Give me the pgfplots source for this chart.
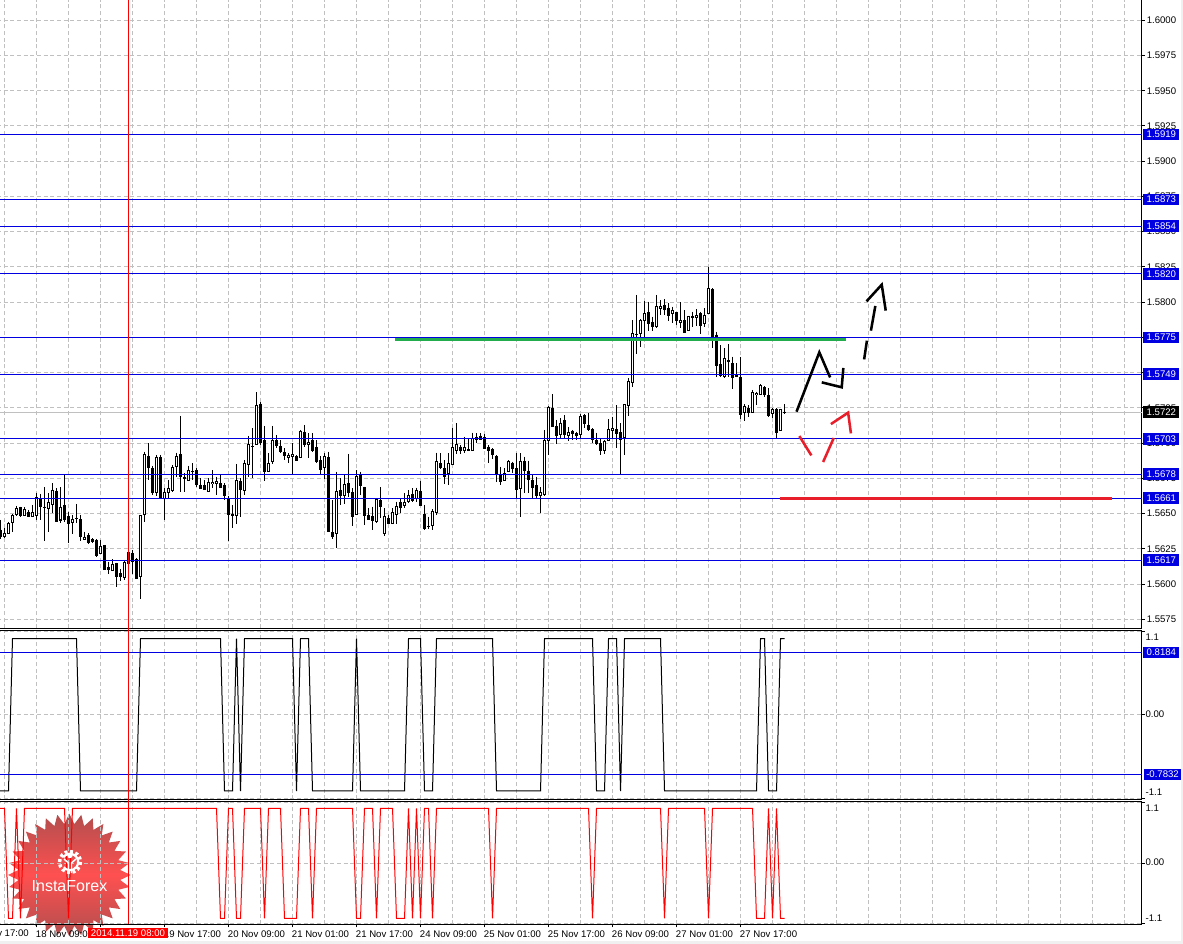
\documentclass[border=0pt]{standalone}
\usepackage{fontspec}
\usepackage{pgfplots}
\usepackage{pgfplotstable}
\pgfplotsset{compat=1.18}
\usetikzlibrary{shapes.geometric}
\setmainfont{Liberation Sans}
\definecolor{gridc}{RGB}{192,192,192}
\definecolor{lvl}{RGB}{0,0,225}
\definecolor{greenl}{RGB}{34,172,78}
\definecolor{redl}{RGB}{232,30,42}
\pgfplotstableread{
k h t b l
1 1.56396 1.56365 1.56341 1.56325
2 1.56443 1.56431 1.56360 1.56355
3 1.56495 1.56490 1.56436 1.56372
4 1.56554 1.56537 1.56493 1.56483
6 1.56545 1.56530 1.56488 1.56483
8 1.56561 1.56509 1.56478 1.56474
9 1.56649 1.56616 1.56490 1.56455
12 1.56644 1.56580 1.56535 1.56372
13 1.56715 1.56668 1.56566 1.56502
15 1.56686 1.56549 1.56455 1.56436
18 1.56490 1.56459 1.56436 1.56355
21 1.56372 1.56336 1.56318 1.56313
25 1.56313 1.56270 1.56218 1.56213
28 1.56176 1.56143 1.56095 1.56090
31 1.56171 1.56159 1.56046 1.56029
35 1.56490 1.56488 1.56053 1.55897
36 1.56940 1.56921 1.56495 1.56443
39 1.56916 1.56904 1.56649 1.56625
41 1.56679 1.56656 1.56611 1.56455
42 1.56738 1.56679 1.56649 1.56611
43 1.56845 1.56828 1.56663 1.56656
44 1.56932 1.56906 1.56833 1.56762
47 1.56838 1.56807 1.56734 1.56729
52 1.56750 1.56727 1.56660 1.56656
53 1.56809 1.56727 1.56712 1.56679
54 1.56762 1.56729 1.56712 1.56632
59 1.56852 1.56736 1.56488 1.56426
61 1.56880 1.56857 1.56663 1.56632
62 1.57051 1.56992 1.56847 1.56762
64 1.57360 1.57268 1.56992 1.56984
67 1.56928 1.56857 1.56798 1.56798
68 1.57122 1.57022 1.56869 1.56852
72 1.56928 1.56918 1.56902 1.56857
73 1.56999 1.56921 1.56904 1.56779
75 1.57093 1.57089 1.56897 1.56897
77 1.57070 1.57006 1.56989 1.56892
81 1.56928 1.56906 1.56826 1.56743
84 1.56798 1.56660 1.56360 1.56256
86 1.56774 1.56708 1.56630 1.56568
89 1.56809 1.56767 1.56493 1.56493
94 1.56608 1.56606 1.56443 1.56431
96 1.56537 1.56483 1.56360 1.56341
98 1.56537 1.56509 1.56431 1.56426
99 1.56585 1.56554 1.56493 1.56426
101 1.56643 1.56580 1.56561 1.56537
102 1.56667 1.56629 1.56584 1.56573
104 1.56684 1.56665 1.56608 1.56584
108 1.56530 1.56516 1.56414 1.56383
109 1.56932 1.56871 1.56506 1.56490
112 1.56927 1.56856 1.56785 1.56705
113 1.57109 1.56970 1.56852 1.56847
114 1.57140 1.56991 1.56951 1.56923
116 1.57046 1.56970 1.56951 1.56932
118 1.57074 1.57038 1.56951 1.56951
119 1.57069 1.57046 1.57027 1.57003
126 1.56821 1.56785 1.56733 1.56733
127 1.56880 1.56871 1.56800 1.56795
130 1.56927 1.56875 1.56679 1.56478
135 1.56686 1.56651 1.56627 1.56502
136 1.57093 1.57022 1.56634 1.56625
137 1.57263 1.57258 1.57022 1.56915
140 1.57176 1.57145 1.57064 1.57027
142 1.57116 1.57076 1.57053 1.57017
145 1.57206 1.57190 1.57064 1.57027
151 1.57022 1.57017 1.56946 1.56923
152 1.57171 1.57098 1.57022 1.57017
153 1.57187 1.57105 1.57093 1.57027
156 1.57277 1.57275 1.57041 1.56915
157 1.57459 1.57438 1.57268 1.57192
158 1.57873 1.57779 1.57429 1.57400
159 1.58051 1.57774 1.57769 1.57632
160 1.57878 1.57876 1.57776 1.57679
161 1.58008 1.57921 1.57869 1.57750
164 1.58051 1.57970 1.57826 1.57817
165 1.58015 1.57970 1.57954 1.57909
168 1.57968 1.57942 1.57921 1.57850
170 1.57999 1.57871 1.57857 1.57814
172 1.57902 1.57899 1.57800 1.57795
173 1.57932 1.57902 1.57892 1.57826
174 1.57949 1.57906 1.57892 1.57831
176 1.57956 1.57906 1.57847 1.57826
177 1.58252 1.58098 1.57921 1.57916
181 1.57672 1.57601 1.57471 1.57459
186 1.57277 1.57263 1.57216 1.57159
188 1.57377 1.57360 1.57218 1.57216
189 1.57365 1.57358 1.57344 1.57270
190 1.57419 1.57410 1.57344 1.57339
193 1.57247 1.57242 1.57209 1.57176
195 1.57242 1.57239 1.57088 1.57083
}\bull
\pgfplotstableread{
k h t b l
0 1.56455 1.56384 1.56341 1.56318
5 1.56549 1.56545 1.56490 1.56478
7 1.56526 1.56514 1.56483 1.56474
10 1.56639 1.56608 1.56554 1.56455
11 1.56686 1.56549 1.56542 1.56308
14 1.56679 1.56660 1.56443 1.56443
16 1.56774 1.56559 1.56462 1.56443
17 1.56514 1.56483 1.56429 1.56294
19 1.56568 1.56469 1.56464 1.56436
20 1.56490 1.56459 1.56336 1.56308
22 1.56360 1.56348 1.56294 1.56284
23 1.56325 1.56318 1.56303 1.56289
24 1.56318 1.56313 1.56202 1.56190
26 1.56277 1.56275 1.56102 1.56100
27 1.56159 1.56119 1.56102 1.56072
29 1.56152 1.56147 1.56053 1.55977
30 1.56105 1.56076 1.56053 1.56020
32 1.56230 1.56225 1.56147 1.56143
33 1.56242 1.56218 1.56159 1.56072
34 1.56183 1.56176 1.56043 1.56043
37 1.56999 1.56909 1.56826 1.56738
38 1.56838 1.56824 1.56653 1.56632
40 1.56916 1.56899 1.56611 1.56611
45 1.57193 1.56921 1.56762 1.56651
46 1.56786 1.56760 1.56748 1.56651
48 1.56857 1.56802 1.56798 1.56738
49 1.56821 1.56809 1.56710 1.56691
50 1.56750 1.56705 1.56682 1.56677
51 1.56738 1.56701 1.56675 1.56668
55 1.56774 1.56715 1.56686 1.56679
56 1.56715 1.56701 1.56627 1.56597
57 1.56625 1.56611 1.56493 1.56308
58 1.56561 1.56497 1.56490 1.56396
60 1.56750 1.56731 1.56675 1.56478
63 1.57105 1.56980 1.56975 1.56750
65 1.57292 1.57278 1.57003 1.56987
66 1.57122 1.57022 1.56802 1.56734
69 1.57058 1.57022 1.56987 1.56963
70 1.57022 1.56980 1.56940 1.56932
71 1.56963 1.56935 1.56914 1.56880
74 1.56916 1.56906 1.56880 1.56876
76 1.57129 1.57079 1.56994 1.56975
78 1.57070 1.57022 1.56947 1.56940
79 1.57022 1.56970 1.56869 1.56861
80 1.56909 1.56880 1.56817 1.56774
82 1.56940 1.56899 1.56372 1.56372
83 1.56597 1.56367 1.56341 1.56318
85 1.56750 1.56668 1.56632 1.56561
87 1.56923 1.56715 1.56653 1.56620
88 1.56679 1.56653 1.56483 1.56412
90 1.56798 1.56774 1.56698 1.56632
91 1.56691 1.56686 1.56490 1.56419
92 1.56537 1.56490 1.56462 1.56455
93 1.56549 1.56483 1.56455 1.56384
95 1.56686 1.56597 1.56554 1.56467
97 1.56490 1.56467 1.56431 1.56426
100 1.56608 1.56580 1.56544 1.56506
103 1.56679 1.56639 1.56591 1.56584
105 1.56733 1.56658 1.56561 1.56561
106 1.56561 1.56495 1.56393 1.56383
107 1.56478 1.56412 1.56407 1.56388
110 1.56927 1.56856 1.56826 1.56819
111 1.56880 1.56821 1.56762 1.56710
115 1.56986 1.56975 1.56951 1.56923
117 1.57034 1.56958 1.56949 1.56944
120 1.57069 1.57053 1.57027 1.57022
121 1.57064 1.57043 1.56965 1.56960
122 1.56986 1.56975 1.56946 1.56856
123 1.56963 1.56956 1.56918 1.56885
124 1.56913 1.56908 1.56781 1.56726
125 1.56833 1.56778 1.56726 1.56703
128 1.56868 1.56861 1.56823 1.56790
129 1.56927 1.56821 1.56674 1.56608
131 1.56904 1.56873 1.56804 1.56643
132 1.56875 1.56804 1.56743 1.56643
133 1.56774 1.56738 1.56684 1.56610
134 1.56762 1.56700 1.56629 1.56610
138 1.57348 1.57247 1.57121 1.57116
139 1.57164 1.57119 1.57053 1.56994
141 1.57199 1.57161 1.57064 1.57027
143 1.57093 1.57088 1.57069 1.57022
144 1.57081 1.57072 1.57053 1.57022
146 1.57206 1.57197 1.57138 1.57105
147 1.57211 1.57126 1.57100 1.57088
148 1.57105 1.57100 1.57027 1.57003
149 1.57074 1.57022 1.56996 1.56986
150 1.57034 1.56998 1.56951 1.56915
154 1.57270 1.57098 1.57067 1.56963
155 1.57140 1.57076 1.57027 1.56781
162 1.58003 1.57928 1.57850 1.57795
163 1.57897 1.57859 1.57831 1.57798
166 1.58022 1.57977 1.57947 1.57909
167 1.57992 1.57961 1.57906 1.57869
169 1.57930 1.57928 1.57871 1.57838
171 1.57944 1.57873 1.57783 1.57779
175 1.57932 1.57921 1.57833 1.57774
178 1.58098 1.58091 1.57750 1.57672
179 1.57791 1.57769 1.57549 1.57471
180 1.57696 1.57559 1.57483 1.57471
182 1.57703 1.57589 1.57578 1.57471
183 1.57613 1.57566 1.57467 1.57386
184 1.57566 1.57483 1.57476 1.57471
185 1.57608 1.57467 1.57206 1.57169
187 1.57270 1.57249 1.57218 1.57183
191 1.57405 1.57398 1.57344 1.57329
192 1.57388 1.57341 1.57195 1.57187
194 1.57247 1.57242 1.57074 1.57038
196 1.57277 1.57223 1.57216 1.57206
}\bear
\tikzset{lvlbox/.style={fill=#1,text=white,inner sep=0pt,minimum width=27pt,minimum height=8.6pt,font=\fontsize{7.2}{8}\selectfont}}
\pgfplotsset{
  common/.style={
    scale only axis, width=858.375pt, clip=false,
    xmin=-0.875, xmax=285.25,
    axis line style={black,line width=.75pt},
    tick style={black,line width=.75pt},
    major tick length=2.25pt, minor tick length=0pt,
    tick align=outside, ytick pos=right, xtick pos=bottom,
    xmajorgrids, xminorgrids, ymajorgrids,
    grid style={gridc,line width=.75pt,dash pattern=on 3pt off 2pt},
    minor xtick={1,9,17,25,33,41,49,57,65,73,81,89,97,105,113,121,129,137,145,153,161,169,177,185,193,201,209,217,225,233,241,249,257,265,273,281},
    tick label style={font=\fontsize{7.2}{8}\selectfont},
    yticklabel style={anchor=west,inner sep=0pt,xshift=1.5pt,/pgf/number format/.cd,fixed,fixed zerofill,precision=4,assume math mode=true},
  },
  nox/.style={xtick={9,25,41,57,73,89,105,121,137,153,169,185},xticklabels={,,},xtick style={draw=none}},
  wick/.style={draw=none,forget plot,no markers,error bars/.cd,y dir=minus,y explicit,error mark=none,error bar style={line width=.75pt,black,solid}},
  body/.style={draw=none,forget plot,no markers,error bars/.cd,y dir=minus,y explicit,error mark=none,error bar style={line width=2.25pt,black,solid}},
  hole/.style={draw=none,forget plot,no markers,error bars/.cd,y dir=minus,y explicit,error mark=none,error bar style={line width=.75pt,white,solid}},
}
\begin{document}
\begin{tikzpicture}
\path[use as bounding box] (0,0) rectangle (887.25pt,708pt);
\fill[white] (0,0) rectangle (887.25pt,708pt);
\fill[black!6] (0,0) rectangle (887.25pt,2pt);
\fill[black!6] (885.75pt,0) rectangle (887.25pt,708pt);
% logo star behind the axes
\begin{scope}[x=.75pt,y=-.75pt,yshift=708pt]
\node[star,star points=32,star point ratio=1.2,minimum size=92pt,inner sep=0pt,draw=none,
  top color={rgb,255:red,178;green,78;blue,78},bottom color={rgb,255:red,178;green,78;blue,78},middle color={rgb,255:red,255;green,80;blue,80}] at (69.3,875) {};
\end{scope}
% main panel
\begin{axis}[common, nox, at={(-2.25pt,236.625pt)}, anchor=south west, height=473.625pt,
  ymin=1.556847, ymax=1.601653,
  ytick={1.5575,1.56,1.5625,1.565,1.5675,1.57,1.5725,1.575,1.5775,1.58,1.5825,1.585,1.5875,1.59,1.5925,1.595,1.5975,1.6}]
\addplot[gridc,line width=.75pt,forget plot] coordinates {(-1,1.5722)(285.25,1.5722)};
\addplot[wick] table[x=k,y=h,y error minus expr=\thisrow{h}-\thisrow{l}] {\bull};
\addplot[wick] table[x=k,y=h,y error minus expr=\thisrow{h}-\thisrow{l}] {\bear};
\addplot[body] table[x=k,y=t,y error minus expr=\thisrow{t}-\thisrow{b}+0.00005] {\bear};
\addplot[body] table[x=k,y=t,y error minus expr=\thisrow{t}-\thisrow{b}+0.00005] {\bull};
\addplot[hole] table[x=k,y expr=\thisrow{t}-0.00007,y error minus expr={max(\thisrow{t}-\thisrow{b}-0.00010,0)}] {\bull};
\addplot[greenl,line width=3pt,forget plot] coordinates {(98.7,1.57737)(211.4,1.57737)};
\pgfplotsinvokeforeach{1.5919,1.5873,1.5854,1.5820,1.5775,1.5749,1.5703,1.5678,1.5661,1.5617}{
  \addplot[lvl,line width=.75pt,forget plot] coordinates {(-1,#1)(285.25,#1)};
}
\addplot[redl,line width=2.2pt,forget plot] coordinates {(194.9,1.56605)(277.9,1.56605)};
\addplot[black,line width=1.9pt,forget plot] coordinates {(199.0,1.57223)(204.7,1.57644)(207.4,1.57466)};
\addplot[black,line width=1.9pt,forget plot] coordinates {(205.3,1.57431)(210.3,1.57396)(210.7,1.57533)};
\addplot[black,line width=1.9pt,forget plot] coordinates {(215.9,1.57594)(216.6,1.57727)};
\addplot[black,line width=1.9pt,forget plot] coordinates {(217.6,1.57798)(218.7,1.57973)};
\addplot[black,line width=1.9pt,forget plot] coordinates {(216.5,1.58006)(220.3,1.58124)(221.3,1.57940)};
\addplot[redl,line width=1.9pt,forget plot] coordinates {(199.7,1.57050)(202.7,1.56913)};
\addplot[redl,line width=1.9pt,forget plot] coordinates {(205.65,1.56866)(208.3,1.57036)};
\addplot[redl,line width=1.9pt,forget plot] coordinates {(207.6,1.57135)(211.9,1.57216)(212.6,1.57069)};
\addplot[red,line width=.75pt,forget plot] coordinates {(32,1.601653)(32,1.55675)};
\node[lvlbox=lvl] at (axis cs:290.2,1.5919) {1.5919};
\node[lvlbox=lvl] at (axis cs:290.2,1.5873) {1.5873};
\node[lvlbox=lvl] at (axis cs:290.2,1.5854) {1.5854};
\node[lvlbox=lvl] at (axis cs:290.2,1.5820) {1.5820};
\node[lvlbox=lvl] at (axis cs:290.2,1.5775) {1.5775};
\node[lvlbox=lvl] at (axis cs:290.2,1.5749) {1.5749};
\node[lvlbox=lvl] at (axis cs:290.2,1.5703) {1.5703};
\node[lvlbox=lvl] at (axis cs:290.2,1.5678) {1.5678};
\node[lvlbox=lvl] at (axis cs:290.2,1.5661) {1.5661};
\node[lvlbox=lvl] at (axis cs:290.2,1.5617) {1.5617};
\node[lvlbox=black] at (axis cs:290.2,1.5722) {1.5722};
\end{axis}
% black indicator
\begin{axis}[common, nox, at={(-2.25pt,108.375pt)}, anchor=south west, height=126.75pt,
  ymin=-1.1116, ymax=1.1077, ytick={-1.1,0,1.1}, yticklabels={,,}]
\addplot[black,line width=.75pt,forget plot] coordinates {(-1,-1)(2,-1)(3,1)(19,1)(20,-1)(34,-1)(35,1)(55,1)(56,-1)(58,-1)(59,1)(60,-1)(61,1)(73,1)(74,-1)(75,1)(77,1)(78,-1)(88,-1)(89,1)(90,-1)(101,-1)(102,1)(105,1)(106,-1)(108,-1)(109,1)(123,1)(124,-1)(135,-1)(136,1)(148,1)(149,-1)(151,-1)(152,1)(154,1)(155,-1)(156,1)(165,1)(166,-1)(189,-1)(190,1)(191,1)(192,-1)(194,-1)(195,1)(196,1)};
\addplot[lvl,line width=.75pt,forget plot] coordinates {(-1,0.8184)(285.25,0.8184)};
\addplot[lvl,line width=.75pt,forget plot] coordinates {(-1,-0.7832)(285.25,-0.7832)};
\addplot[red,line width=.75pt,forget plot] coordinates {(32,1.14)(32,-1.14)};
\node[lvlbox=lvl] at (axis cs:290.2,0.8184) {0.8184};
\node[lvlbox=lvl,minimum width=28pt] at (axis cs:290.5,-0.7832) {-0.7832};
\node[anchor=west,inner sep=0pt,font=\fontsize{7.2}{8}\selectfont] at (axis cs:286.2,1.02) {1.1};
\node[anchor=west,inner sep=0pt,font=\fontsize{7.2}{8}\selectfont] at (axis cs:286.2,0.015) {0.00};
\node[anchor=west,inner sep=0pt,font=\fontsize{7.2}{8}\selectfont] at (axis cs:286.2,-1.02) {-1.1};
\end{axis}
% red indicator
\begin{axis}[common, at={(-2.25pt,14.625pt)}, anchor=south west, height=92.25pt,
  ymin=-1.1127, ymax=1.1236, ytick={-1.1,0,1.1}, yticklabels={,,},
  xtick={9,25,41,57,73,89,105,121,137,153,169,185},
  xticklabels={18 Nov 09:00,19 Nov 01:00,19 Nov 17:00,20 Nov 09:00,21 Nov 01:00,21 Nov 17:00,24 Nov 09:00,25 Nov 01:00,25 Nov 17:00,26 Nov 09:00,27 Nov 01:00,27 Nov 17:00},
  xticklabel style={anchor=north west,inner sep=0pt,xshift=-0.6pt,yshift=-2.6pt}]
\addplot[red,line width=.75pt,forget plot] coordinates {(-1,1)(1,1)(2,-1)(3,-1)(4,1)(5,-1)(6,1)(16,1)(17,-1)(18,1)(54,1)(55,-1)(56,-1)(57,1)(58,1)(59,-1)(60,-1)(61,1)(65,1)(66,-1)(67,1)(70,1)(71,-1)(74,-1)(75,1)(77,1)(78,-1)(79,1)(88,1)(89,-1)(90,-1)(91,1)(93,1)(94,-1)(95,1)(98,1)(99,-1)(101,-1)(102,1)(103,-1)(104,1)(105,-1)(106,1)(107,1)(108,-1)(109,1)(122,1)(123,-1)(124,1)(147,1)(148,-1)(149,1)(165,1)(166,-1)(167,1)(176,1)(177,-1)(178,1)(188,1)(189,-1)(191,-1)(192,1)(193,-1)(194,1)(195,-1)(196,-1)};
\addplot[red,line width=.75pt,forget plot] coordinates {(32,1.14)(32,-1.1127)};
\node[anchor=west,inner sep=0pt,font=\fontsize{7.2}{8}\selectfont] at (axis cs:286.2,1.0) {1.1};
\node[anchor=west,inner sep=0pt,font=\fontsize{7.2}{8}\selectfont] at (axis cs:286.2,0.02) {0.00};
\node[anchor=west,inner sep=0pt,font=\fontsize{7.2}{8}\selectfont] at (axis cs:286.2,-0.99) {-1.1};
\end{axis}
% logo details and date box
\begin{scope}[x=.75pt,y=-.75pt,yshift=708pt]
\node[anchor=west,inner sep=0pt,font=\fontsize{7.2}{8}\selectfont] at (-28.6,933) {17 Nov 17:00};
\draw[white,line width=2.6pt,dash pattern=on 2.2pt off 1.9pt] (70,862) circle (10.5);
\draw[white,line width=1.6pt] (70,862) ++(215:8.2) arc (215:500:8.2);
\fill[white] (70,855.5) circle (2.6);
\draw[white,line width=1.1pt] (64,859) -- (68.5,863) -- (68.5,873);
\draw[white,line width=1.1pt] (76,859) -- (71.5,863) -- (71.5,873);
\node[text=white,inner sep=0pt,font=\fontsize{12}{14}\selectfont] at (69.5,886.5) {InstaForex};
\node[fill=red,text=white,inner sep=0pt,minimum width=60pt,minimum height=7.5pt,font=\fontsize{7.2}{8}\selectfont] at (128,933) {2014.11.19 08:00};
\end{scope}
\end{tikzpicture}
\end{document}
